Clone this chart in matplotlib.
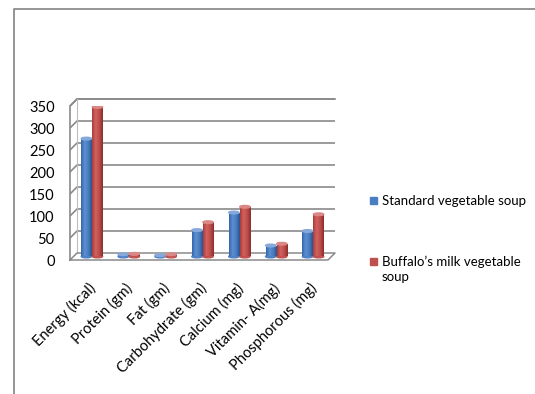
import numpy as np
import matplotlib
matplotlib.use("Agg")
import matplotlib.pyplot as plt
from matplotlib.patches import Ellipse, Rectangle
from matplotlib.colors import LinearSegmentedColormap
from matplotlib.lines import Line2D

plt.rcParams['font.family'] = ['Lato', 'DejaVu Sans']

# nutrient composition of the two soups
categories = ['Energy (kcal)', 'Protein (gm)', 'Fat (gm)', 'Carbohydrate (gm)',
              'Calcium (mg)', 'Vitamin- A(mg)', 'Phosphorous (mg)']
standard = [268, 5, 3, 60, 100, 25, 58]
buffalo = [340, 6, 5, 78, 113, 29, 96]
series_names = ['Standard vegetable soup', 'Buffalo\u2019s milk vegetable\nsoup']
yticks = [0, 50, 100, 150, 200, 250, 300, 350]

W, H = 535, 394
fig = plt.figure(figsize=(W / 100, H / 100), dpi=100)
# axes = front plane of the 3d box
x0, x1, yb, yt = 70, 328, 260, 106
ax = fig.add_axes([x0 / W, 1 - yb / H, (x1 - x0) / W, (yb - yt) / H])
n = len(categories)
ax.set_xlim(-0.5, n - 0.5)
ax.set_ylim(0, 350)
for s in ax.spines.values():
    s.set_visible(False)

# depth of the box in data units (about 7px back and up)
upx = n / (x1 - x0)
upy = 350 / (yb - yt)
dx, dy = 7 * upx, 7 * upy

grid_c = '#8a8a8a'
xl, xr = -0.5, n - 0.5
for v in yticks:
    if v == 0:
        continue
    ax.plot([xl, xl + dx, xr + dx], [v, v + dy, v + dy], color=grid_c, lw=1.2,
            clip_on=False, zorder=1, solid_capstyle='butt')
# top cut of the walls
ax.plot([xl, xl, xl + dx, xr + dx], [0, 350, 350 + dy, 350 + dy], color=grid_c,
        lw=1.2, clip_on=False, zorder=1)
ax.plot([xl + dx, xl + dx], [dy, 350 + dy], color='#bdbdbd', lw=0.8, clip_on=False, zorder=1)
# floor
ax.plot([xl, xr, xr + dx, xl + dx, xl], [0, 0, dy, dy, 0], color=grid_c, lw=1.1,
        clip_on=False, zorder=1)

blue_cm = LinearSegmentedColormap.from_list('b', ['#3465a8', '#5d8fd3', '#4a7cc0', '#2a5390'])
red_cm = LinearSegmentedColormap.from_list('r', ['#a83c3a', '#d2625f', '#bd4d4a', '#8a2e2c'])
grad = np.linspace(0, 1, 64).reshape(1, -1)

x = np.arange(n)
bw = 0.28
off = 0.15
for vals, sign, cm, topc in [(standard, -1, blue_cm, '#86a9da'),
                             (buffalo, 1, red_cm, '#d98886')]:
    bars = ax.bar(x + sign * off + dx / 2, vals, bw, bottom=dy / 2,
                  color='none', edgecolor='none', zorder=3)
    for b in bars:
        bx, by = b.get_x(), b.get_y()
        bh = b.get_height()
        im = ax.imshow(grad, cmap=cm, aspect='auto', zorder=3,
                       extent=[bx, bx + bw, by, by + bh], interpolation='bilinear')
        im.set_clip_path(b)
        ax.add_patch(Ellipse((bx + bw / 2, by), bw, 6, color=cm(0.6), zorder=2.9))
        ax.add_patch(Ellipse((bx + bw / 2, by + bh), bw, 6, color=topc, zorder=4))
ax.set_xlim(-0.5, n - 0.5)
ax.set_ylim(0, 350)

ax.set_yticks(yticks)
ax.set_yticklabels([str(v) for v in yticks], fontsize=10.5)
ax.set_xticks(x)
ax.set_xticklabels(categories, rotation=45, ha='right', va='top',
                   rotation_mode='anchor', fontsize=10.5)
ax.tick_params(axis='both', length=0)
ax.tick_params(axis='y', pad=11)
ax.tick_params(axis='x', pad=15)

# legend
def fy(p):
    return 1 - p / H

fig.add_artist(Rectangle((370 / W, fy(204)), 7 / W, 7 / H, color='#4a7ec2',
                         transform=fig.transFigure))
fig.text(382 / W, fy(205), series_names[0], fontsize=9.5, va='baseline', ha='left')
fig.add_artist(Rectangle((370 / W, fy(265)), 7 / W, 7 / H, color='#c0504d',
                         transform=fig.transFigure))
line1, line2 = series_names[1].split('\n')
fig.text(382 / W, fy(266), line1, fontsize=9.5, va='baseline', ha='left')
fig.text(382 / W, fy(281), line2, fontsize=9.5, va='baseline', ha='left')

# chart frame
fig.add_artist(Line2D([14 / W, 14 / W, 1], [0, fy(9), fy(9)], color='#8c8c8c',
                      lw=1.3, transform=fig.transFigure))

fig.savefig('out.png', dpi=100)
